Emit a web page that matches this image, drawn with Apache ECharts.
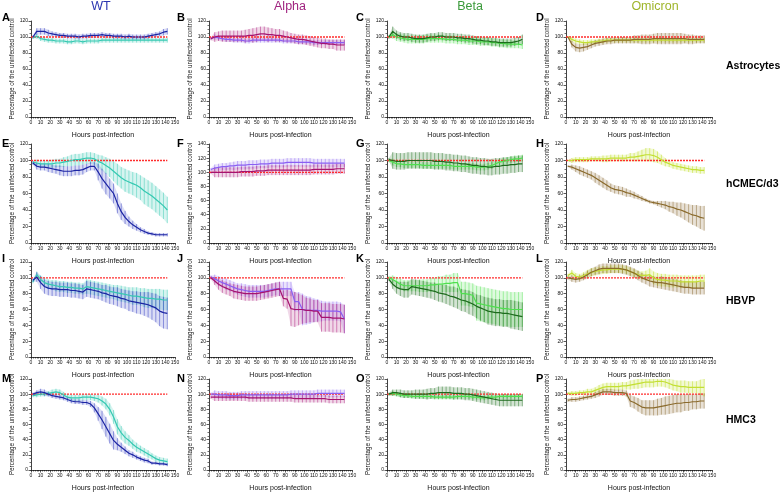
<!DOCTYPE html>
<html>
<head>
<meta charset="utf-8">
<script src="https://cdn.jsdelivr.net/npm/echarts@6/dist/echarts.min.js"></script>
<style>
  html, body { margin: 0; padding: 0; background: #fff; }
  #main { width: 783px; height: 493px; }
</style>
</head>
<body>
<div id="main"></div>
<script>
// time points (hours post-infection)
var hours = [2,6,10,14,18,22,26,30,34,38,42,46,50,54,58,62,66,70,74,78,82,86,90,94,98,102,106,110,114,118,122,126,130,134,138,142];

// Astrocytes
var aBlue = [100,107,107,107,105,104,103,102,102,101,101,101,100,101,101,102,102,102,103,102,102,101,101,101,100,101,100,100,100,100,101,102,103,104,106,107];
var aBlueErr = [2,4,4,4,4,3,3,3,3,3,3,3,3,3,3,3,3,3,3,3,3,3,3,3,3,3,3,3,3,3,3,3,3,3,4,4];
var aTeal = [99,101,98,97,96,96,95,95,95,94,94,95,95,94,95,95,95,95,96,96,96,96,96,96,96,96,96,96,96,96,96,96,96,96,96,96];
var aTealErr = [1,3,3,3,3,3,3,3,3,3,3,3,3,3,3,3,3,3,3,3,3,3,3,3,3,3,3,3,3,3,3,3,3,3,3,3];
var bMag = [98,100,101,101,101,101,101,101,101,101,102,102,103,104,104,103,103,102,102,101,100,99,98,97,97,96,95,94,93,92,92,91,91,90,90,90];
var bMagErr = [2,6,6,7,7,7,7,7,7,8,8,9,9,9,9,9,8,8,8,7,7,6,6,6,6,6,6,6,6,6,6,6,6,7,7,7];
var bVio = [98,100,99,98,97,97,96,96,96,95,95,96,96,96,96,96,96,96,96,95,95,95,95,94,94,94,94,93,93,93,93,93,93,93,93,93];
var bVioErr = [1,3,3,3,3,3,3,3,3,3,3,3,3,3,3,3,3,3,3,3,3,3,3,3,3,3,3,3,3,3,3,3,3,3,3,3];
var cDark = [100,107,103,101,100,100,99,98,98,98,99,100,100,101,101,100,100,100,99,99,98,98,97,96,96,95,95,94,94,93,93,93,93,94,95,97];
var cDarkErr = [2,6,5,5,5,5,5,5,5,5,5,5,5,5,5,5,5,5,5,5,5,5,5,5,5,5,5,5,5,5,5,5,5,5,5,6];
var cLight = [100,103,100,99,98,97,97,97,97,97,98,98,98,98,98,97,97,97,96,96,96,95,95,95,94,94,94,93,93,92,92,91,91,91,91,90];
var cLightErr = [2,5,5,5,5,5,5,5,5,5,5,5,5,5,5,5,5,5,5,5,5,5,5,5,5,5,5,5,5,5,5,5,5,5,5,5];
var dBrown = [100,91,87,86,87,88,90,92,93,94,95,95,96,96,96,96,96,97,97,97,97,97,98,98,98,98,98,98,98,98,98,97,97,97,97,97];
var dBrownErr = [1,4,5,5,5,4,4,4,4,4,4,4,4,4,4,4,4,5,5,6,6,6,6,7,7,7,7,7,7,7,6,6,6,5,5,5];
var dYel = [100,97,95,94,93,93,94,94,95,95,96,96,96,96,96,96,96,96,96,96,96,96,96,96,96,96,96,96,96,96,96,96,96,96,96,96];
var dYelErr = [1,3,3,3,3,3,3,3,3,3,3,3,3,3,3,3,3,3,3,3,3,3,3,3,3,3,3,3,3,3,3,3,3,3,3,3];

// hCMEC/d3
var eBlue = [97,93,92,92,91,90,89,88,87,87,87,88,88,89,91,93,93,86,78,72,66,60,48,38,31,26,22,19,16,14,12,11,10,10,10,10];
var eBlueErr = [2,4,4,4,5,5,5,6,6,6,6,6,6,6,5,5,5,10,12,13,12,12,12,10,8,6,5,4,3,3,2,2,2,2,2,2];
var eTeal = [98,97,96,96,96,96,97,97,98,99,100,101,101,102,103,103,102,99,97,94,91,87,83,79,76,74,72,70,67,63,60,57,53,49,45,40];
var eTealErr = [2,4,4,4,4,5,5,5,6,6,7,7,7,7,7,7,7,8,9,10,11,12,13,13,14,14,14,15,15,16,16,16,16,16,16,16];
var fVio = [104,106,107,108,108,109,109,110,110,110,111,111,111,112,112,112,113,113,113,113,114,114,114,114,114,114,114,113,113,113,113,113,113,113,113,113];
var fVioErr = [2,5,5,5,5,5,6,6,6,6,6,6,6,6,6,6,6,6,6,6,6,6,6,6,6,6,6,6,6,6,6,6,6,6,6,6];
var fMag = [100,100,100,100,100,100,100,100,101,101,101,101,102,102,102,103,103,103,103,103,103,103,103,103,103,103,103,104,104,104,104,104,104,105,105,105];
var fMagErr = [2,7,7,7,7,7,7,7,7,7,7,7,7,7,7,7,7,7,7,7,7,7,7,7,7,7,7,7,7,7,7,7,7,7,7,7];
var gDark = [101,100,99,99,99,100,100,100,100,100,100,100,99,99,99,98,98,97,97,96,96,95,94,94,93,93,92,92,93,93,94,94,95,95,96,96];
var gDarkErr = [2,10,10,10,10,10,10,10,10,10,10,10,10,10,10,10,10,10,10,10,10,10,10,10,10,10,10,10,10,10,10,10,10,10,10,10];
var gLight = [100,98,96,96,95,95,95,95,95,94,94,94,94,94,94,94,94,93,93,93,93,93,93,92,92,92,93,94,96,98,99,100,101,102,102,103];
var gLightErr = [2,4,4,4,4,4,4,4,4,4,4,4,4,4,4,4,4,4,4,4,4,4,4,4,4,4,4,4,4,4,4,4,4,4,4,4];
var hYel = [100,100,101,101,101,101,102,102,102,102,102,103,103,103,103,103,104,104,105,106,107,107,106,104,101,98,96,94,93,92,91,90,89,89,88,88];
var hYelErr = [1,3,3,3,3,3,3,3,3,4,4,4,4,4,4,4,5,5,6,7,8,8,8,7,6,5,4,4,4,4,4,4,4,4,4,4];
var hBrown = [93,92,90,88,86,84,82,79,76,73,70,67,65,64,63,61,60,58,56,54,52,50,49,48,47,46,44,43,41,40,38,36,34,33,31,30];
var hBrownErr = [1,3,4,5,5,5,5,6,6,6,6,5,5,5,5,5,4,4,3,3,2,2,2,3,4,5,6,7,8,9,10,11,12,13,14,15];

// HBVP
var iBlue = [97,101,94,89,87,86,86,85,85,85,84,84,83,82,86,85,84,83,81,80,78,77,76,74,73,71,70,69,68,67,66,64,62,58,56,55];
var iBlueErr = [2,6,8,9,9,9,9,9,9,9,9,9,9,9,10,10,10,10,10,11,11,11,12,12,12,13,13,14,14,15,16,17,18,19,20,20];
var iTeal = [95,104,98,94,92,91,90,89,89,88,88,87,87,86,89,88,87,86,85,84,83,82,81,80,79,78,77,77,76,75,74,74,73,73,72,72];
var iTealErr = [2,4,5,6,6,6,7,7,7,7,7,7,7,7,9,9,9,9,9,9,9,9,10,10,10,10,11,11,11,12,12,12,13,13,13,13];
var jVio = [101,99,96,94,92,90,88,86,85,84,83,83,83,83,83,84,85,86,86,86,86,86,70,70,60,59,59,59,59,58,58,58,58,58,57,48];
var jVioErr = [2,5,6,6,7,7,7,7,8,8,8,8,8,8,8,8,8,8,9,9,9,9,12,12,20,18,17,15,14,13,12,12,12,12,12,18];
var jMag = [100,96,92,89,87,85,83,82,81,80,80,80,80,81,82,83,84,85,86,74,73,61,60,60,60,59,59,58,58,50,50,50,49,49,49,48];
var jMagErr = [2,5,7,8,8,8,9,9,9,9,9,9,9,9,9,9,9,9,9,10,12,22,22,20,18,16,15,14,14,18,18,18,18,18,18,18];
var kDark = [98,92,88,86,85,85,89,88,87,86,85,84,83,81,80,79,77,76,74,72,71,69,67,64,62,60,58,57,56,56,55,55,54,53,52,51];
var kDarkErr = [2,6,8,9,10,10,10,10,10,10,10,10,11,11,11,12,12,13,13,14,14,15,15,15,16,16,17,17,17,17,17,17,18,18,18,18];
var kLight = [100,98,95,92,90,90,90,90,90,90,90,91,91,92,92,93,93,94,94,80,80,79,78,68,67,66,65,64,63,62,61,61,60,60,60,60];
var kLightErr = [2,5,6,7,7,7,7,7,8,8,8,9,9,10,10,11,11,12,12,15,15,15,15,22,22,22,22,22,22,22,22,22,22,22,22,22];
var lYel = [103,106,102,101,103,105,107,108,109,110,110,111,111,111,111,110,108,106,104,103,103,104,100,98,97,97,96,96,96,95,95,95,95,95,96,96];
var lYelErr = [2,4,4,4,4,5,5,5,5,5,5,5,5,5,5,5,5,5,5,5,6,8,8,8,8,8,8,8,8,8,8,8,8,8,8,8];
var lBrown = [100,99,98,99,101,104,107,109,111,112,112,112,112,112,111,110,108,106,103,100,98,96,95,94,94,93,92,91,90,89,88,88,87,87,87,87];
var lBrownErr = [2,4,4,4,4,5,5,5,6,6,6,6,6,6,6,6,6,6,6,6,6,7,7,7,8,8,8,8,8,8,8,8,8,8,8,8];

// HMC3
var mBlue = [100,102,103,102,100,98,97,96,95,93,91,90,90,89,89,87,82,74,66,57,48,39,34,30,26,22,20,17,15,13,12,9,9,8,8,7];
var mBlueErr = [2,3,4,4,3,3,3,3,3,3,3,3,3,3,3,4,6,9,12,13,13,12,8,6,5,4,4,3,3,3,3,2,2,2,2,2];
var mTeal = [98,99,100,100,101,102,103,102,99,96,95,95,95,96,96,96,95,94,91,87,80,70,57,49,43,39,34,30,27,24,21,18,15,13,12,11];
var mTealErr = [2,3,3,3,3,4,4,4,4,4,4,4,4,4,4,4,4,5,6,7,8,9,10,9,8,7,6,6,5,5,5,4,4,4,4,4];
var nVio = [100,100,99,99,99,98,98,98,99,99,99,99,99,99,99,99,99,99,99,99,99,100,100,100,100,100,100,100,101,101,101,101,101,101,101,101];
var nVioErr = [2,5,5,5,5,5,5,5,5,5,5,5,5,5,5,5,5,5,5,5,5,5,5,5,5,5,5,5,5,5,5,5,5,5,5,5];
var nMag = [96,96,96,96,96,96,96,96,96,96,95,95,95,95,95,95,95,95,95,95,95,95,94,94,94,94,94,94,94,94,94,93,93,93,93,93];
var nMagErr = [2,5,5,5,5,5,5,5,5,5,5,5,5,5,5,5,5,5,5,5,5,5,5,5,5,5,5,5,5,5,5,5,5,5,5,5];
var oDark = [100,102,102,101,100,100,100,100,100,100,100,101,101,102,102,102,102,101,101,101,100,100,99,98,97,96,95,94,93,92,92,92,92,92,92,92];
var oDarkErr = [2,4,4,5,5,5,5,6,6,6,7,7,7,8,8,8,8,8,8,8,8,8,8,8,8,8,8,8,8,8,8,8,8,8,8,8];
var oLight = [100,101,100,99,98,98,97,97,97,97,97,97,96,96,96,96,96,96,97,97,97,97,96,96,95,95,96,96,96,97,97,97,97,97,97,97];
var oLightErr = [1,3,3,3,3,3,3,3,3,3,3,3,3,3,3,3,3,3,3,3,3,3,3,3,3,3,3,3,3,3,3,3,3,3,3,3];
var pYel = [101,101,101,102,102,103,103,105,107,109,110,110,110,110,111,111,112,113,114,115,116,116,116,117,117,116,114,112,111,110,110,109,109,109,109,109];
var pYelErr = [2,3,3,3,3,4,4,4,5,5,5,5,5,5,5,5,6,6,7,7,7,7,7,7,7,7,7,7,7,8,8,8,8,8,10,12];
var pBrown = [92,93,93,94,95,96,97,99,101,103,103,103,102,102,102,101,91,89,86,83,82,82,82,83,84,85,86,87,88,88,89,89,90,90,91,91];
var pBrownErr = [2,3,3,3,3,3,3,4,4,4,4,4,4,4,4,4,8,8,9,9,10,10,10,11,11,12,12,12,12,12,11,11,10,10,10,10];

var xTicks = [0,10,20,30,40,50,60,70,80,90,100,110,120,130,140,150];
var columnTitles = ['WT', 'Alpha', 'Beta', 'Omicron'];
var rowTitles = ['Astrocytes', 'hCMEC/d3', 'HBVP', 'HMC3'];

var colors = {
  blue:   { line: '#1c25a3', bar: 'rgba(40,50,190,0.6)',  fill: 'rgba(90,100,210,0.22)' },
  teal:   { line: '#36c9b2', bar: 'rgba(50,200,175,0.6)', fill: 'rgba(70,205,185,0.22)' },
  mag:    { line: '#a5136f', bar: 'rgba(170,20,120,0.6)', fill: 'rgba(180,60,140,0.2)' },
  vio:    { line: '#8a5ff2', bar: 'rgba(140,100,240,0.6)', fill: 'rgba(150,120,240,0.2)' },
  dark:   { line: '#1d6b1d', bar: 'rgba(30,110,30,0.6)',  fill: 'rgba(40,120,40,0.2)' },
  light:  { line: '#4fe04f', bar: 'rgba(80,225,80,0.6)',  fill: 'rgba(110,230,110,0.22)' },
  brown:  { line: '#8a6a2c', bar: 'rgba(130,100,40,0.6)', fill: 'rgba(150,120,70,0.22)' },
  yel:    { line: '#c3df33', bar: 'rgba(195,225,50,0.7)', fill: 'rgba(205,230,80,0.25)' }
};
var titleColors = ['#2b35b0', '#a0237f', '#3b9a3b', '#9fb52a'];

var panels = [
  { id: 'A', s: [[aTeal, aTealErr, 'teal'], [aBlue, aBlueErr, 'blue']] },
  { id: 'B', s: [[bVio, bVioErr, 'vio'], [bMag, bMagErr, 'mag']] },
  { id: 'C', s: [[cLight, cLightErr, 'light'], [cDark, cDarkErr, 'dark']] },
  { id: 'D', s: [[dYel, dYelErr, 'yel'], [dBrown, dBrownErr, 'brown']] },
  { id: 'E', s: [[eTeal, eTealErr, 'teal'], [eBlue, eBlueErr, 'blue']] },
  { id: 'F', ymax: 140, s: [[fVio, fVioErr, 'vio'], [fMag, fMagErr, 'mag']] },
  { id: 'G', s: [[gLight, gLightErr, 'light'], [gDark, gDarkErr, 'dark']] },
  { id: 'H', s: [[hYel, hYelErr, 'yel'], [hBrown, hBrownErr, 'brown']] },
  { id: 'I', s: [[iTeal, iTealErr, 'teal'], [iBlue, iBlueErr, 'blue']] },
  { id: 'J', s: [[jVio, jVioErr, 'vio'], [jMag, jMagErr, 'mag']] },
  { id: 'K', s: [[kLight, kLightErr, 'light'], [kDark, kDarkErr, 'dark']] },
  { id: 'L', s: [[lYel, lYelErr, 'yel'], [lBrown, lBrownErr, 'brown']] },
  { id: 'M', s: [[mTeal, mTealErr, 'teal'], [mBlue, mBlueErr, 'blue']] },
  { id: 'N', s: [[nVio, nVioErr, 'vio'], [nMag, nMagErr, 'mag']] },
  { id: 'O', s: [[oLight, oLightErr, 'light'], [oDark, oDarkErr, 'dark']] },
  { id: 'P', s: [[pYel, pYelErr, 'yel'], [pBrown, pBrownErr, 'brown']] }
];

var colLeft = [31, 209, 387, 566];
var colWidth = [144, 143, 143, 146];
var rowTop = [21, 144, 262, 379];
var rowHeight = [96, 99, 95, 95];
var letterX = [2, 177, 356, 536];
var letterY = [12, 138, 253, 373];
var titleX = [101, 290, 470, 655];
var rowTitleY = [61, 179, 296, 415];
var font = 'Liberation Sans, Arial, sans-serif';

var grid = [], xAxis = [], yAxis = [], series = [], graphic = [];

function errRows(mean, err) {
  var rows = [];
  for (var i = 0; i < hours.length; i++) {
    var j = Math.min(i + 1, hours.length - 1);
    rows.push([hours[i], mean[i] - err[i], mean[i] + err[i],
               hours[j], mean[j] - err[j], mean[j] + err[j], i === j ? 1 : 0]);
  }
  return rows;
}

function renderErr(c) {
  return function (params, api) {
    var x = api.value(0), lo = api.value(1), hi = api.value(2);
    var xn = api.value(3), lon = api.value(4), hin = api.value(5);
    var a = api.coord([x, lo]), b = api.coord([x, hi]);
    var children = [];
    if (!api.value(6)) {
      children.push({
        type: 'polygon',
        shape: { points: [a, api.coord([xn, lon]), api.coord([xn, hin]), b] },
        style: { fill: c.fill }
      });
    }
    children.push({
      type: 'line',
      shape: { x1: a[0], y1: a[1], x2: b[0], y2: b[1] },
      style: { stroke: c.bar, lineWidth: 0.8 }
    });
    return { type: 'group', children: children };
  };
}

panels.forEach(function (p, k) {
  var col = k % 4, row = Math.floor(k / 4);
  var ymax = p.ymax || 120;
  grid.push({ left: colLeft[col], top: rowTop[row], width: colWidth[col], height: rowHeight[row] });
  xAxis.push({
    gridIndex: k, type: 'value', min: 0, max: 150, interval: 10,
    name: 'Hours post-infection', nameLocation: 'middle', nameGap: 15,
    nameTextStyle: { fontSize: 7, color: '#111', fontFamily: font },
    axisLine: { lineStyle: { color: '#111', width: 0.8 } },
    axisTick: { length: 2.5, lineStyle: { color: '#111', width: 0.7 } },
    minorTick: { show: true, splitNumber: 5, length: 1.5, lineStyle: { color: '#111', width: 0.6 } },
    axisLabel: { fontSize: 5, color: '#111', margin: 3, fontFamily: font,
      formatter: function (v) { return xTicks.indexOf(v) >= 0 ? String(v) : ''; } },
    splitLine: { show: false }
  });
  yAxis.push({
    gridIndex: k, type: 'value', min: 0, max: ymax, interval: 20,
    name: 'Percentage of the uninfected control', nameLocation: 'middle', nameGap: 14,
    nameTextStyle: { fontSize: 6.3, color: '#111', fontFamily: font },
    axisLine: { show: true, lineStyle: { color: '#111', width: 0.8 } },
    axisTick: { show: true, length: 2.5, lineStyle: { color: '#111', width: 0.7 } },
    minorTick: { show: true, splitNumber: 4, length: 1.5, lineStyle: { color: '#111', width: 0.6 } },
    axisLabel: { fontSize: 5, color: '#111', margin: 3, fontFamily: font },
    splitLine: { show: false }
  });
  p.s.forEach(function (s) {
    var c = colors[s[2]];
    series.push({
      type: 'custom', xAxisIndex: k, yAxisIndex: k, clip: true,
      renderItem: renderErr(c), data: errRows(s[0], s[1]),
      encode: { x: [0, 3], y: [1, 2, 4, 5] }, silent: true, z: 2
    });
  });
  series.push({
    type: 'line', xAxisIndex: k, yAxisIndex: k, data: [[0, 100], [142, 100]],
    showSymbol: false, silent: true, z: 4,
    lineStyle: { color: '#ff2d2d', width: 1.3, type: [2, 1] }
  });
  p.s.forEach(function (s) {
    var c = colors[s[2]];
    series.push({
      type: 'line', xAxisIndex: k, yAxisIndex: k, showSymbol: false, silent: true, z: 5,
      data: hours.map(function (h, i) { return [h, s[0][i]]; }),
      lineStyle: { color: c.line, width: 1.2 }
    });
  });
  graphic.push({
    type: 'text', left: letterX[col], top: letterY[row],
    style: { text: p.id, fontSize: 11, fontWeight: 'bold', fill: '#000', fontFamily: font }
  });
});

columnTitles.forEach(function (t, i) {
  graphic.push({
    type: 'text', x: titleX[i], y: 0,
    style: { text: t, fontSize: 12.5, fill: titleColors[i], fontFamily: font, align: 'center' }
  });
});
rowTitles.forEach(function (t, i) {
  graphic.push({
    type: 'text', left: 726, top: rowTitleY[i],
    style: { text: t, fontSize: 10.5, fontWeight: 'bold', fill: '#000', fontFamily: font }
  });
});

var chart = echarts.init(document.getElementById('main'));
chart.setOption({
  animation: false,
  grid: grid, xAxis: xAxis, yAxis: yAxis, series: series, graphic: graphic
});
</script>
</body>
</html>
